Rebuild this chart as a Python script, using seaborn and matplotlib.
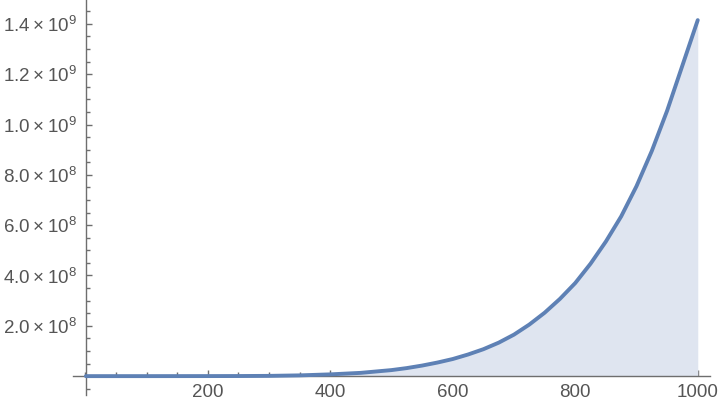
import numpy as np
import pandas as pd
import matplotlib
matplotlib.use('Agg')
import matplotlib.pyplot as plt
import seaborn as sns
from matplotlib.ticker import MultipleLocator, FixedLocator, FuncFormatter

# values
x_vals = [1, 50, 100, 150, 200, 250, 300, 350, 400, 450, 500, 525, 550, 575,
          600, 625, 650, 675, 700, 725, 750, 775, 800, 825, 850, 875, 900,
          925, 950, 975, 1000]
y_vals = [0, 0, 0.00001, 0.0001, 0.0002, 0.0004, 0.001, 0.003, 0.007, 0.013,
          0.024, 0.032, 0.042, 0.054, 0.068, 0.086, 0.107, 0.133, 0.165,
          0.205, 0.252, 0.307, 0.37, 0.447, 0.535, 0.635, 0.755, 0.895,
          1.055, 1.235, 1.415]
y_vals = [v * 1e9 for v in y_vals]
x_ticks = [200, 400, 600, 800, 1000]
y_ticks = [2e8, 4e8, 6e8, 8e8, 1e9, 1.2e9, 1.4e9]

df = pd.DataFrame({'x': x_vals, 'y': y_vals})

sns.set_style('ticks')
plt.rcParams['font.family'] = ['Liberation Sans', 'DejaVu Sans']
plt.rcParams['mathtext.fontset'] = 'custom'
plt.rcParams['mathtext.rm'] = 'Liberation Sans'

line_col = '#5e81b5'
fill_col = '#dfe5f0'
axis_col = '#6e6e6e'
text_col = '#555555'

fig = plt.figure(figsize=(7.2, 4.05), dpi=100)
ax = fig.add_axes([73 / 720, 10 / 405, 637 / 720, 395 / 405])

ax.fill_between(df['x'], 0, df['y'], color=fill_col, lw=0, zorder=1)
sns.lineplot(data=df, x='x', y='y', color=line_col, lw=2.8, ax=ax, zorder=3)

ax.set_xlim(-20, 1020)
ax.set_ylim(-0.075e9, 1.495e9)

for s in ['top', 'right']:
    ax.spines[s].set_visible(False)
ax.spines['left'].set_position(('data', 1))
ax.spines['bottom'].set_position(('data', 0))
for s in ['left', 'bottom']:
    ax.spines[s].set_color(axis_col)
    ax.spines[s].set_linewidth(1.0)

ax.xaxis.set_major_locator(FixedLocator(x_ticks))
ax.xaxis.set_minor_locator(MultipleLocator(50))
ax.yaxis.set_major_locator(FixedLocator(y_ticks))
ax.yaxis.set_minor_locator(MultipleLocator(0.05e9))


def sci(v, pos):
    e = int(np.floor(np.log10(v)))
    m = v / 10 ** e
    return r'$\mathregular{%.1f\times10^{%d}}$' % (m, e)


ax.yaxis.set_major_formatter(FuncFormatter(sci))
ax.set_xticklabels([str(t) for t in x_ticks])

ax.tick_params(which='both', direction='in', color=axis_col, width=1.0,
               labelcolor=text_col, labelsize=13.5, bottom=True, left=True)
ax.tick_params(which='major', length=4.5)
ax.tick_params(which='minor', length=3)
ax.tick_params(axis='x', pad=6)
ax.tick_params(axis='y', pad=6)
ax.set_xlabel('')
ax.set_ylabel('')

fig.savefig('out.png', dpi=100)
